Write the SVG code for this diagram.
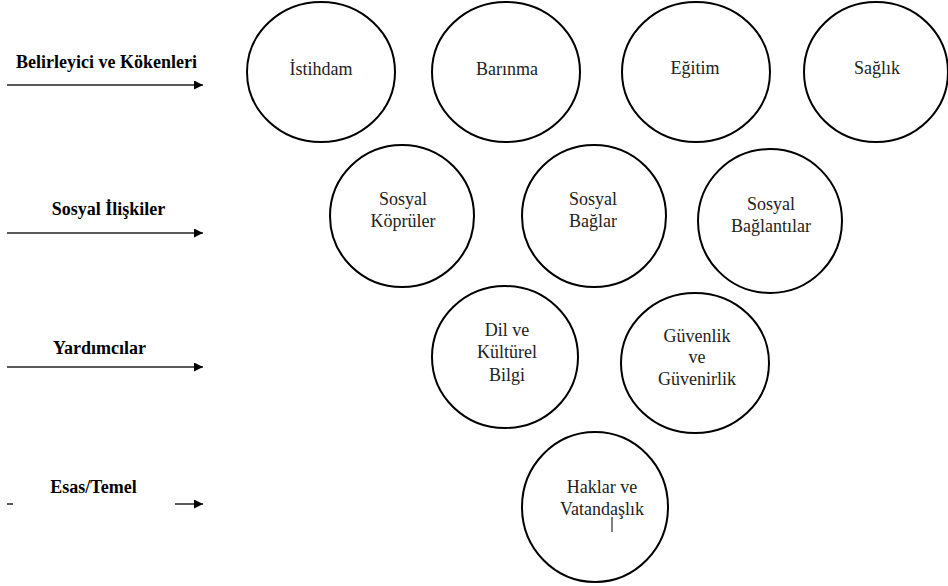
<svg xmlns="http://www.w3.org/2000/svg" width="948" height="586" viewBox="0 0 948 586">
<style>
.n{fill:#fff;stroke:#000;stroke-width:2}
.t{font-family:'Liberation Serif','Times New Roman',serif !important;font-size:18px;fill:#222;text-anchor:middle}
.l{font-family:'Liberation Serif','Times New Roman',serif;font-size:18px;font-weight:bold;fill:#000;text-anchor:middle}
.a{stroke:#222;stroke-width:1.5;fill:none}
</style>
<defs>
<marker id="ah" viewBox="0 0 10 10" refX="10" refY="5" markerWidth="9" markerHeight="9" markerUnits="userSpaceOnUse" orient="auto" preserveAspectRatio="none">
<path d="M0,0L10,5L0,10z" fill="#000"/>
</marker>
</defs>
<g id="labels" font-family="Liberation Serif, Times New Roman, serif">
<text class="l" x="106.5" y="68">Belirleyici ve Kökenleri</text>
<text class="l" x="108.5" y="215">Sosyal İlişkiler</text>
<text class="l" x="99.5" y="354">Yardımcılar</text>
<text class="l" x="93.5" y="493">Esas/Temel</text>
</g>
<g id="connectors">
<line class="a" x1="7" y1="85" x2="203" y2="85" marker-end="url(#ah)"/>
<line class="a" x1="7" y1="233" x2="203" y2="233" marker-end="url(#ah)"/>
<line class="a" x1="7" y1="367" x2="203" y2="367" marker-end="url(#ah)"/>
<line class="a" x1="7" y1="504" x2="13" y2="504"/>
<line class="a" x1="175" y1="504" x2="203" y2="504" marker-end="url(#ah)"/>
</g>
<g id="nodes" font-family="Liberation Serif, Times New Roman, serif">
<g id="n-istihdam"><ellipse class="n" cx="321" cy="72" rx="74" ry="70"/><text class="t" font-family="Liberation Serif" x="321" y="75">İstihdam</text></g>
<g id="n-barinma"><ellipse class="n" cx="506" cy="72" rx="74" ry="70"/><text class="t" font-family="Liberation Serif" x="507" y="75">Barınma</text></g>
<g id="n-egitim"><ellipse class="n" cx="696" cy="72" rx="74" ry="70"/><text class="t" font-family="Liberation Serif" x="695" y="74">Eğitim</text></g>
<g id="n-saglik"><ellipse class="n" cx="876" cy="72" rx="72" ry="70"/><text class="t" font-family="Liberation Serif" x="877" y="74">Sağlık</text></g>
<g id="n-kopruler"><ellipse class="n" cx="402" cy="216" rx="72" ry="71"/><text class="t" font-family="Liberation Serif" x="403" y="205">Sosyal</text><text class="t" font-family="Liberation Serif" x="403" y="227">Köprüler</text></g>
<g id="n-baglar"><ellipse class="n" cx="594" cy="216" rx="72" ry="71"/><text class="t" font-family="Liberation Serif" x="593" y="205">Sosyal</text><text class="t" font-family="Liberation Serif" x="593" y="227">Bağlar</text></g>
<g id="n-baglantilar"><ellipse class="n" cx="770" cy="221" rx="72" ry="72"/><text class="t" font-family="Liberation Serif" x="771" y="210">Sosyal</text><text class="t" font-family="Liberation Serif" x="771" y="232">Bağlantılar</text></g>
<g id="n-dil"><ellipse class="n" cx="505" cy="357" rx="73" ry="71"/><text class="t" font-family="Liberation Serif" x="507" y="336">Dil ve</text><text class="t" font-family="Liberation Serif" x="507" y="358">Kültürel</text><text class="t" font-family="Liberation Serif" x="507" y="381">Bilgi</text></g>
<g id="n-guvenlik"><ellipse class="n" cx="695" cy="363" rx="74" ry="70"/><text class="t" font-family="Liberation Serif" x="697" y="342">Güvenlik</text><text class="t" font-family="Liberation Serif" x="697" y="363">ve</text><text class="t" font-family="Liberation Serif" x="697" y="385">Güvenirlik</text></g>
<g id="n-haklar"><ellipse class="n" cx="595" cy="507" rx="73" ry="75"/><text class="t" font-family="Liberation Serif" x="602" y="493">Haklar ve</text><text class="t" font-family="Liberation Serif" x="602" y="515">Vatandaşlık</text><line x1="612" y1="517" x2="612" y2="532" stroke="#000" stroke-width="1"/></g>
</g>
</svg>
